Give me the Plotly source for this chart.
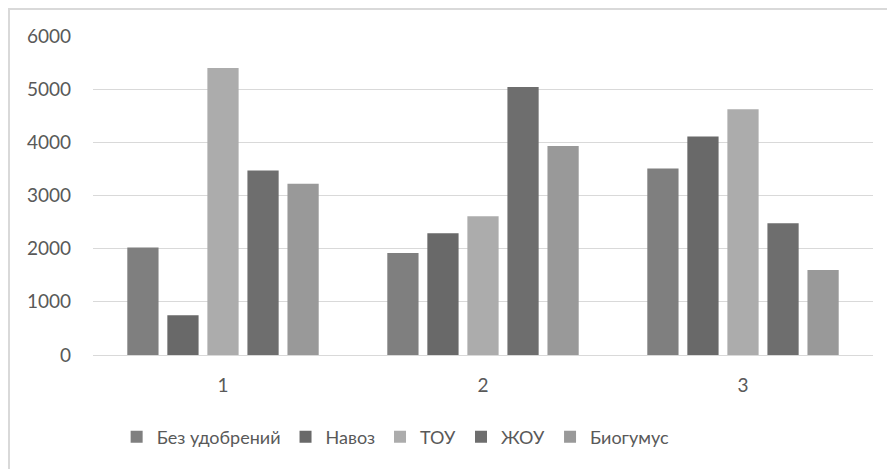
import plotly.graph_objects as go

categories = ["1", "2", "3"]
series_names = ["Без удобрений", "Навоз", "ТОУ", "ЖОУ", "Биогумус"]
bez_udobreniy = [2020, 1920, 3510]
navoz = [750, 2290, 4110]
tou = [5400, 2610, 4620]
zhou = [3470, 5040, 2480]
biogumus = [3220, 3930, 1600]
y_ticks = [0, 1000, 2000, 3000, 4000, 5000, 6000]

values = [bez_udobreniy, navoz, tou, zhou, biogumus]
colors = ["#7f7f7f", "#696969", "#acacac", "#6e6e6e", "#999999"]

FONT = "Lato, 'Open Sans', sans-serif"
fig = go.Figure()
for name, vals, col in zip(series_names, values, colors):
    fig.add_trace(go.Bar(x=categories, y=vals, name=name, marker_color=col,
                         marker_line_width=0))

fig.update_layout(
    width=895, height=469,
    margin=dict(l=85, r=30, t=28, b=122),
    paper_bgcolor="white", plot_bgcolor="white",
    barmode="group", bargap=0.23, bargroupgap=0.22,
    font=dict(family=FONT, color="#595959", size=19),
    showlegend=True,
    legend=dict(orientation="h", x=0.388, xanchor="center", y=-0.257, yanchor="middle",
                font=dict(size=18, color="#595959"), itemwidth=30,
                traceorder="normal"),
    xaxis=dict(showgrid=False, showline=False, ticks="", tickfont=dict(size=19),
               ticklabelstandoff=17),
    yaxis=dict(range=[0, 6000], tickvals=y_ticks, showgrid=True, gridcolor="#d9d9d9",
               gridwidth=1, zeroline=True, zerolinecolor="#d9d9d9", zerolinewidth=1,
               showline=False, ticks="", tickfont=dict(size=19), ticklabelstandoff=21),
    shapes=[dict(type="rect", xref="paper", yref="paper", x0=-0.1077, x1=2, y0=-2, y1=1.0846,
                 line=dict(color="#d9d9d9", width=2), fillcolor="rgba(0,0,0,0)", layer="below")],
)

fig.write_html("out.html")
